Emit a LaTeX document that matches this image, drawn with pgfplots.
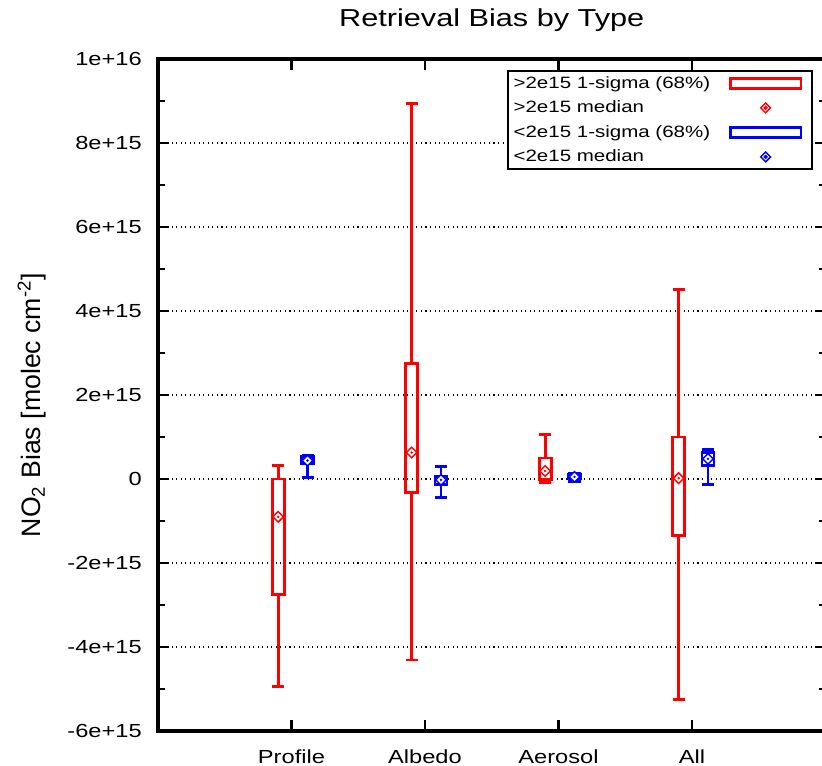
\documentclass[border=0pt]{standalone}
\usepackage{pgfplots}
\usepackage{pgfplotstable}
\usepgfplotslibrary{statistics}
\pgfplotsset{compat=1.18}
\usepackage{fontspec}
\setmainfont{Liberation Sans}[FakeStretch=1.25]
\newfontfamily\ylabfont{Liberation Sans}

% medians, in units of 1e15 molec cm^-2
\pgfplotstableread{
pos   med
0.90  -0.90
1.90   0.63
2.90   0.19
3.90   0.02
}\highmed
\pgfplotstableread{
pos   med
1.12   0.44
2.12  -0.02
3.12   0.05
4.12   0.48
}\lowmed

\pgfplotsset{
  mybox/.style={forget plot, line width=2.2pt,
    boxplot/draw direction=y,
    boxplot/box extend=0.09, boxplot/whisker extend=0.09,
    boxplot/draw/median/.code={}},
}

\begin{document}
\begin{tikzpicture}
\begin{axis}[
  scale only axis,
  width=500.6pt, height=504pt,
  xmin=0, xmax=5, ymin=-6, ymax=10,
  xtick={1,2,3,4},
  xticklabels={Profile,Albedo,Aerosol,All},
  ytick={-6,-4,...,10},
  yticklabels={-6e+15,-4e+15,-2e+15,0,2e+15,4e+15,6e+15,8e+15,1e+16},
  minor y tick num=1,
  ymajorgrids,
  grid style={black, line width=0.8pt, dash pattern=on 0.8pt off 2.6pt},
  axis line style={black, line width=2.8pt},
  tick style={black, line width=2pt},
  major tick length=8pt, minor tick length=5pt,
  yticklabel style={font=\fontsize{14.2}{16}\selectfont, inner sep=0pt, xshift=-12pt},
  xticklabel style={font=\fontsize{14.2}{16}\selectfont, inner sep=0pt, anchor=base, yshift=-24pt},
  title={Retrieval Bias by Type},
  title style={font=\fontsize{18.4}{22}\selectfont, at={(0.5,1)}, anchor=base, yshift=18.5pt},
  ylabel={\ylabfont NO\textsubscript{2} Bias [molec cm\textsuperscript{-2}]},
  every axis y label/.style={at={(axis description cs:-0.189,0.485)}, rotate=90, anchor=center,
    font=\fontsize{20}{24}\selectfont},
  legend plot pos=right,
  legend cell align=left,
  legend style={at={(0.981,0.9836)}, anchor=north east, draw=black, line width=1.5pt,
    font=\fontsize{12.3}{14}\selectfont, inner xsep=2pt, inner ysep=2pt, row sep=4pt,
    /tikz/every odd column/.append style={column sep=12pt}},
]
% >2e15 boxes: lower whisker, lower quartile, median, upper quartile, upper whisker
\addplot[red, mybox, boxplot prepared={draw position=0.90,
  lower whisker=-4.95, lower quartile=-2.76, median=-0.90, upper quartile=0.00, upper whisker=0.32}] coordinates {};
\addplot[red, mybox, boxplot prepared={draw position=1.90,
  lower whisker=-4.31, lower quartile=-0.33, median=0.63, upper quartile=2.76, upper whisker=8.93}] coordinates {};
\addplot[red, mybox, boxplot prepared={draw position=2.90,
  lower whisker=-0.08, lower quartile=-0.02, median=0.19, upper quartile=0.50, upper whisker=1.07}] coordinates {};
\addplot[red, mybox, boxplot prepared={draw position=3.90,
  lower whisker=-5.26, lower quartile=-1.34, median=0.02, upper quartile=1.00, upper whisker=4.52}] coordinates {};
% <2e15 boxes
\addplot[blue, mybox, boxplot prepared={draw position=1.12,
  lower whisker=0.04, lower quartile=0.37, median=0.44, upper quartile=0.54, upper whisker=0.56}] coordinates {};
\addplot[blue, mybox, boxplot prepared={draw position=2.12,
  lower whisker=-0.43, lower quartile=-0.12, median=-0.02, upper quartile=0.05, upper whisker=0.29}] coordinates {};
\addplot[blue, mybox, boxplot prepared={draw position=3.12,
  lower whisker=-0.06, lower quartile=0.00, median=0.05, upper quartile=0.10, upper whisker=0.14}] coordinates {};
\addplot[blue, mybox, boxplot prepared={draw position=4.12,
  lower whisker=-0.12, lower quartile=0.33, median=0.48, upper quartile=0.62, upper whisker=0.71}] coordinates {};
% medians
\addplot[forget plot, only marks, red, mark=square*, mark size=2.8pt,
  mark options={rotate=45, line width=1.1pt, fill=white}] table[x=pos, y=med]{\highmed};
\addplot[forget plot, only marks, red, mark=*, mark size=0.7pt] table[x=pos, y=med]{\highmed};
\addplot[forget plot, only marks, blue, mark=square*, mark size=2.8pt,
  mark options={rotate=45, line width=1.1pt, fill=white}] table[x=pos, y=med]{\lowmed};
\addplot[forget plot, only marks, blue, mark=*, mark size=0.7pt] table[x=pos, y=med]{\lowmed};

\addlegendimage{red, line width=2.2pt,
  legend image code/.code={\draw[red, line width=2.2pt] (0pt,-3.75pt) rectangle (53pt,3.75pt); \path (58pt,0pt);}}
\addlegendentry{>2e15 1-sigma (68\%)}
\addlegendimage{red,
  legend image code/.code={\draw[red, line width=1.1pt, fill=white, rotate around={45:(26.5pt,0pt)}] (23.9pt,-2.6pt) rectangle (29.1pt,2.6pt); \fill[red] (26.5pt,0pt) circle (0.7pt); \path (0pt,0pt) (58pt,0pt);}}
\addlegendentry{>2e15 median}
\addlegendimage{blue, line width=2.2pt,
  legend image code/.code={\draw[blue, line width=2.2pt] (0pt,-3.75pt) rectangle (53pt,3.75pt); \path (58pt,0pt);}}
\addlegendentry{<2e15 1-sigma (68\%)}
\addlegendimage{blue,
  legend image code/.code={\draw[blue, line width=1.1pt, fill=white, rotate around={45:(26.5pt,0pt)}] (23.9pt,-2.6pt) rectangle (29.1pt,2.6pt); \fill[blue] (26.5pt,0pt) circle (0.7pt); \path (0pt,0pt) (58pt,0pt);}}
\addlegendentry{<2e15 median}
\end{axis}
\pgfresetboundingbox
\useasboundingbox ([xshift=-118.5pt,yshift=-25.5pt]current axis.south west)
  rectangle ([xshift=498pt,yshift=548.25pt]current axis.south west);
\end{tikzpicture}
\end{document}
